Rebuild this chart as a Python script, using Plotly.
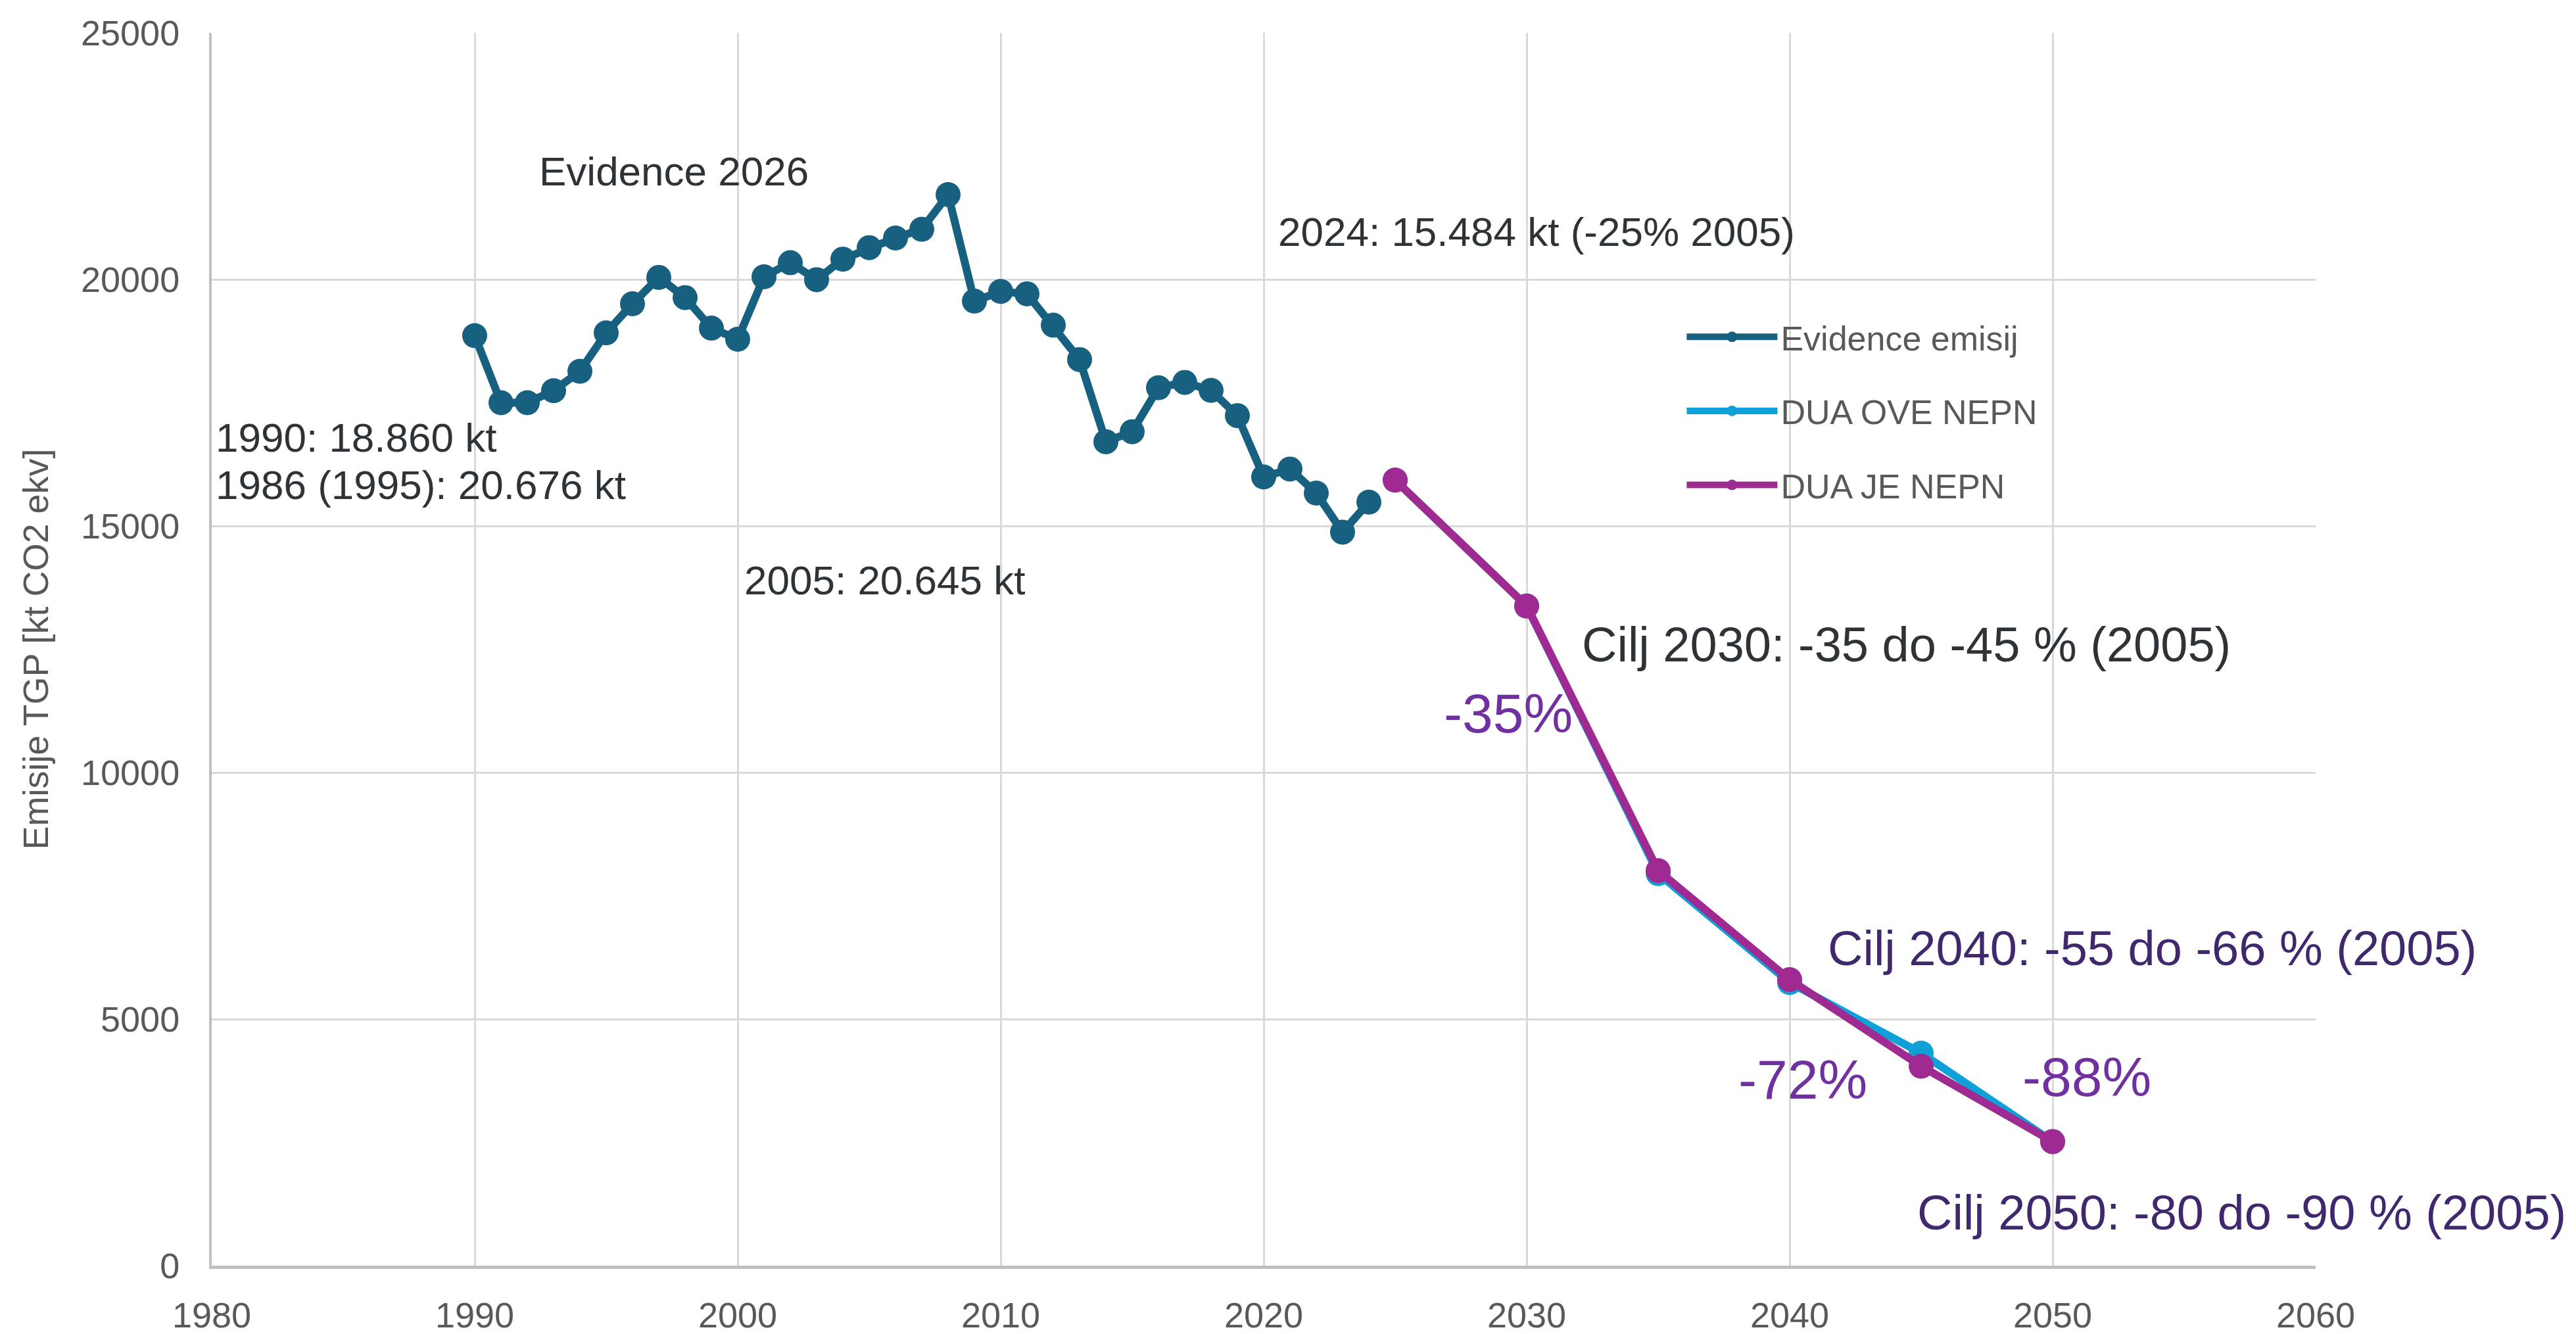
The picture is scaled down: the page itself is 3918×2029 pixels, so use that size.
import plotly.graph_objects as go

# ---- data ----
years_hist = list(range(1990, 2025))
evidence = [18860, 17500, 17500, 17744, 18137, 18917, 19507, 20041, 19631, 19012,
            18787, 20053, 20339, 19995, 20411, 20645, 20840, 21017, 21720, 19560,
            19756, 19708, 19072, 18375, 16708, 16911, 17804, 17911, 17750, 17238,
            15994, 16155, 15667, 14875, 15484]
years_proj = [2025, 2030, 2035, 2040, 2045, 2050]
dua_ove = [15930, 13377, 7950, 5740, 4311, 2515]
dua_je = [15930, 13377, 8011, 5800, 4044, 2515]

series_names = ["Evidence emisij", "DUA OVE NEPN", "DUA JE NEPN"]
series_colors = ["#17607F", "#10A0D8", "#9E2A92"]

x_ticks = list(range(1980, 2061, 10))
y_ticks = list(range(0, 25001, 5000))

FONT = "Liberation Sans, Arial, sans-serif"
DARK = "#2E3338"
PURPLE_DARK = "#40286E"
PURPLE = "#7030A0"

fig = go.Figure()
fig.add_trace(go.Scatter(x=years_hist, y=evidence, name=series_names[0], mode="lines+markers",
                         line=dict(color=series_colors[0], width=12),
                         marker=dict(size=38, color=series_colors[0]), legendgroup="a"))
fig.add_trace(go.Scatter(x=years_proj, y=dua_ove, name=series_names[1], mode="lines+markers",
                         line=dict(color=series_colors[1], width=12),
                         marker=dict(size=38, color=series_colors[1]), legendgroup="b"))
fig.add_trace(go.Scatter(x=years_proj, y=dua_je, name=series_names[2], mode="lines+markers",
                         line=dict(color=series_colors[2], width=12),
                         marker=dict(size=38, color=series_colors[2]), legendgroup="c"))

annotations = [
    # text, x, y, size, color
    ("Evidence 2026", 1992.4, 22200, 62, DARK),
    ("2024: 15.484 kt (-25% 2005)", 2020.5, 20970, 62, DARK),
    ("1990: 18.860 kt", 1980.1, 16800, 62, DARK),
    ("1986 (1995): 20.676 kt", 1980.1, 15830, 62, DARK),
    ("2005: 20.645 kt", 2000.2, 13900, 62, DARK),
    ("Cilj 2030: -35 do -45 % (2005)", 2032.05, 12600, 74, DARK),
    ("-35%", 2026.8, 11200, 84, PURPLE),
    ("Cilj 2040: -55 do -66 % (2005)", 2041.4, 6430, 74, PURPLE_DARK),
    ("-72%", 2038.0, 3777, 84, PURPLE),
    ("-88%", 2048.8, 3830, 84, PURPLE),
    ("Cilj 2050: -80 do -90 % (2005)", 2044.8, 1070, 74, PURPLE_DARK),
]
for t, x, y, s, c in annotations:
    fig.add_annotation(x=x, y=y, xref="x", yref="y", text=t, showarrow=False,
                       xanchor="left", yanchor="middle",
                       font=dict(family=FONT, size=s, color=c))

# the page body has an 8 px margin, so the figure is 8 px smaller and shifted
fig.update_layout(
    width=3910, height=2021,
    paper_bgcolor="white", plot_bgcolor="white",
    margin=dict(l=314, r=396, t=42, b=104),
    font=dict(family=FONT, color="#595959"),
    legend=dict(x=0.6995, y=0.6933, xanchor="left", yanchor="middle",
                font=dict(size=52, color="#595959", family=FONT),
                tracegroupgap=42, bgcolor="rgba(255,255,255,0)", itemwidth=138),
    showlegend=True,
)
fig.update_xaxes(range=[1980, 2060], tickvals=x_ticks, showgrid=True, gridcolor="#D9D9D9",
                 gridwidth=3, showline=True, linecolor="#BFBFBF", linewidth=5, zeroline=False,
                 ticks="", ticklabelstandoff=24, automargin=False, tickformat="d",
                 tickfont=dict(size=54, color="#595959", family=FONT))
fig.update_yaxes(range=[0, 25000], tickvals=y_ticks, showgrid=True, gridcolor="#D9D9D9",
                 gridwidth=3, showline=True, linecolor="#BFBFBF", linewidth=4, zeroline=False,
                 ticks="", ticklabelstandoff=34, automargin=False, tickformat="d",
                 tickfont=dict(size=54, color="#595959", family=FONT),
                 title=dict(text="Emisije TGP [kt CO2 ekv]", standoff=33,
                            font=dict(size=54, color="#595959", family=FONT)))

fig.write_html("out.html")
